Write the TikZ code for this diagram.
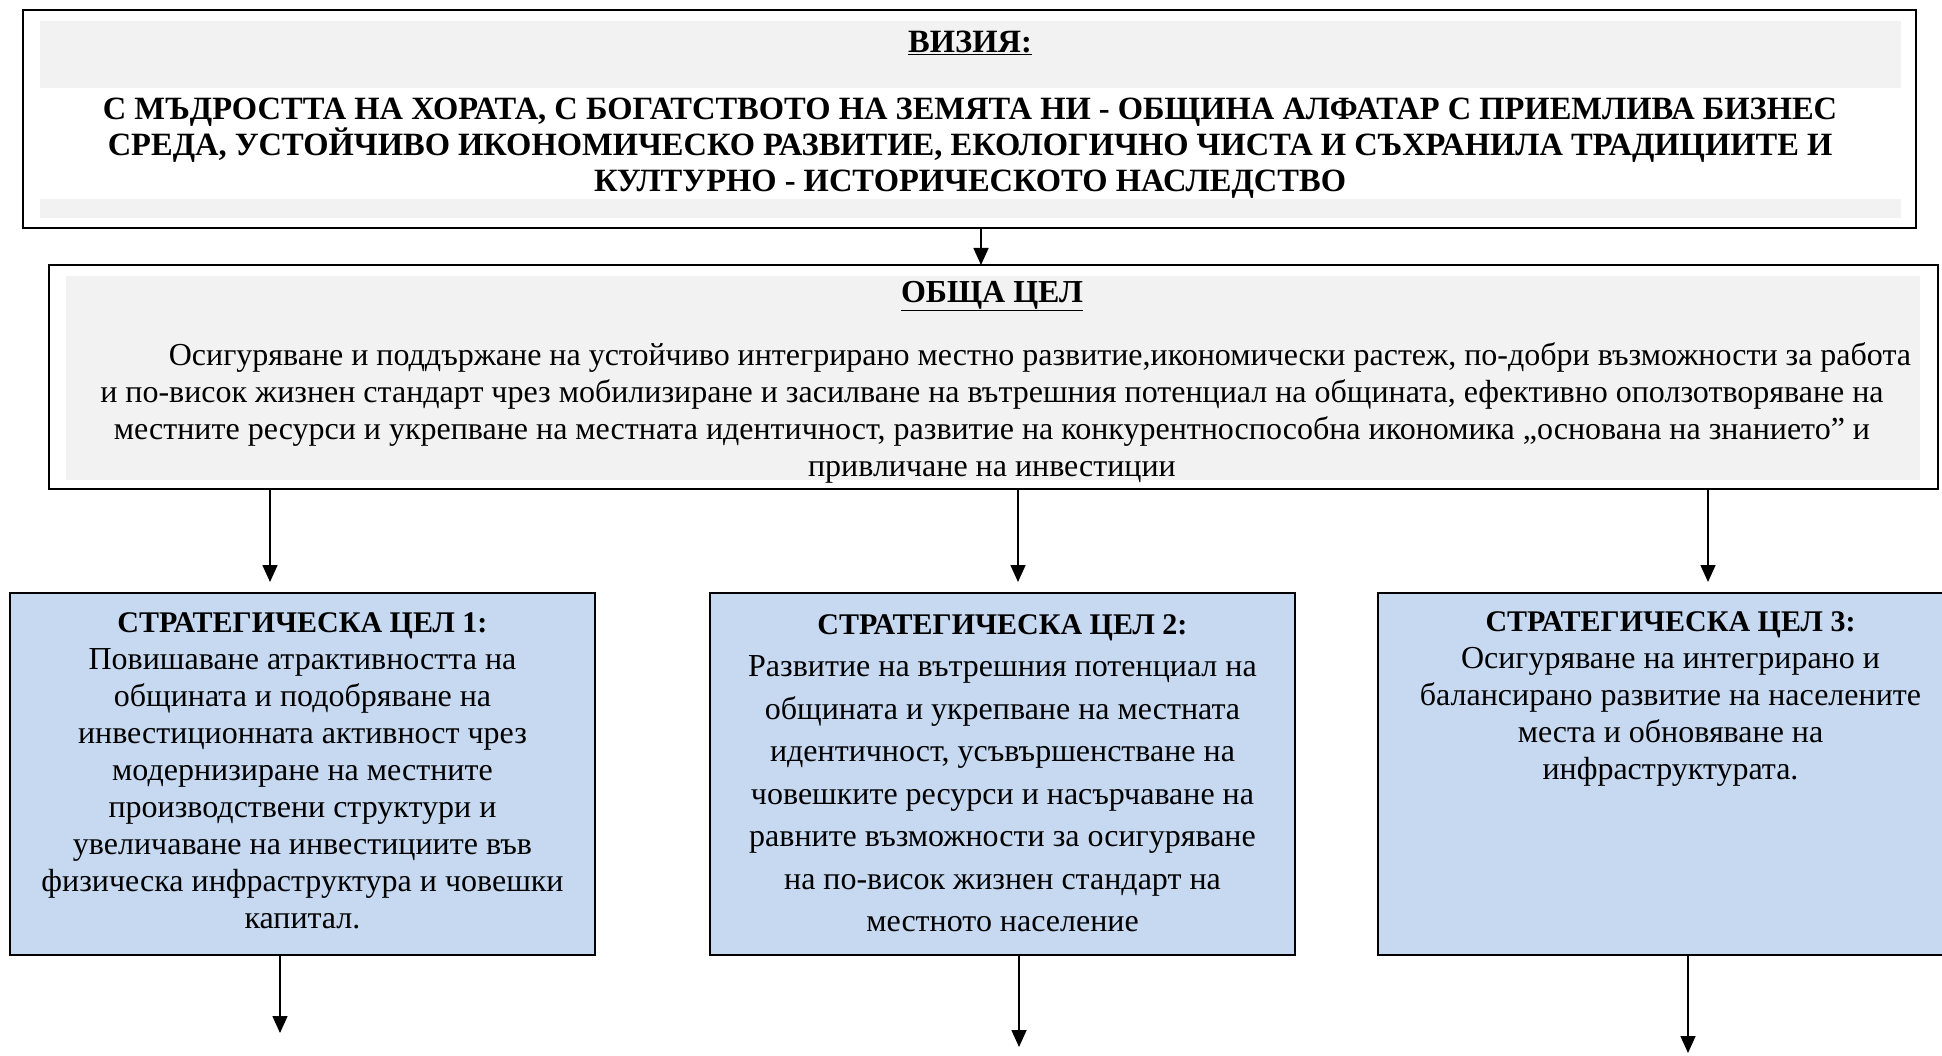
\documentclass[tikz,border=0pt]{standalone}
\usepackage{fontspec}
\setmainfont{Liberation Serif}
\usetikzlibrary{arrows.meta}
\definecolor{bandgray}{HTML}{F2F2F2}
\definecolor{goalblue}{HTML}{C6D9F1}
\begin{document}
\begin{tikzpicture}[x=1pt,y=-1pt,
  frame/.style={draw=black, line width=1.6pt, fill=white, inner sep=0pt, outer sep=0pt, anchor=north west},
  band/.style={fill=bandgray, draw=none, inner sep=0pt, outer sep=0pt, anchor=north west},
  stratbox/.style={draw=black, line width=1.6pt, fill=goalblue, inner sep=0pt, outer sep=0pt, anchor=north west, minimum width=585pt, minimum height=362pt},
  conn/.style={line width=1.6pt, -{Triangle[length=17pt,width=15pt]}},
  txt/.style={inner sep=0pt, align=center},
]
\fill[white] (0,0) rectangle (1942,1056);
\useasboundingbox (0,0) rectangle (1942,1056);

% Vision box
\node[frame, minimum width=1893pt, minimum height=218pt] (vis) at (23,10) {};
\node[band, minimum width=1861pt, minimum height=67pt] (visband1) at (40,21) {};
\node[band, minimum width=1861pt, minimum height=19pt] (visband2) at (40,199) {};
\node[txt, font=\fontsize{32.5pt}{36pt}\selectfont\bfseries] (vistitle) at (970,43) {\underline{ВИЗИЯ:}};
\node[txt, font=\fontsize{32.5pt}{36pt}\selectfont\bfseries] (vistext) at (970,148)
  {С МЪДРОСТТА НА ХОРАТА, С БОГАТСТВОТО НА ЗЕМЯТА НИ - ОБЩИНА АЛФАТАР С ПРИЕМЛИВА БИЗНЕС\\
   СРЕДА, УСТОЙЧИВО ИКОНОМИЧЕСКО РАЗВИТИЕ, ЕКОЛОГИЧНО ЧИСТА И СЪХРАНИЛА ТРАДИЦИИТЕ И\\
   КУЛТУРНО - ИСТОРИЧЕСКОТО НАСЛЕДСТВО};

% General goal box
\node[frame, minimum width=1889pt, minimum height=224pt] (goal) at (49,265) {};
\node[band, minimum width=1854pt, minimum height=204pt] (goalband) at (66,276) {};
\node[txt, font=\fontsize{32pt}{36.7pt}\selectfont\bfseries] (goaltitle) at (992,296) {\underline{ОБЩА ЦЕЛ}};
\node[txt, font=\fontsize{32pt}{36.7pt}\selectfont] (goaltext) at (992,413)
  {\hspace*{96pt}Осигуряване и поддържане на устойчиво интегрирано местно развитие,икономически растеж, по-добри възможности за работа\\
   и по-висок жизнен стандарт чрез мобилизиране и засилване на вътрешния потенциал на общината, ефективно оползотворяване на\\
   местните ресурси и укрепване на местната идентичност, развитие на конкурентноспособна икономика „основана на знанието” и\\
   привличане на инвестиции};

% Strategic goals
\node[stratbox] (s1) at (10,593) {};
\node[stratbox] (s2) at (710,593) {};
\node[stratbox] (s3) at (1378,593) {};

\node[txt, font=\fontsize{32pt}{37pt}\selectfont] (s1text) at (302.5,771)
  {{\fontsize{30pt}{37pt}\selectfont\bfseries СТРАТЕГИЧЕСКА ЦЕЛ 1:}\\
   Повишаване атрактивността на\\
   общината и подобряване на\\
   инвестиционната активност чрез\\
   модернизиране на местните\\
   производствени структури и\\
   увеличаване на инвестициите във\\
   физическа инфраструктура и човешки\\
   капитал.};
\node[txt, font=\fontsize{32pt}{42.5pt}\selectfont] (s2text) at (1002.5,773)
  {{\fontsize{30pt}{42.5pt}\selectfont\bfseries СТРАТЕГИЧЕСКА ЦЕЛ 2:}\\
   Развитие на вътрешния потенциал на\\
   общината и укрепване на местната\\
   идентичност, усъвършенстване на\\
   човешките ресурси и насърчаване на\\
   равните възможности за осигуряване\\
   на по-висок жизнен стандарт на\\
   местното население};
\node[txt, font=\fontsize{32pt}{37pt}\selectfont] (s3text) at (1670.5,699)
  {{\fontsize{30pt}{37pt}\selectfont\bfseries СТРАТЕГИЧЕСКА ЦЕЛ 3:}\\
   Осигуряване на интегрирано и\\
   балансирано развитие на населените\\
   места и обновяване на\\
   инфраструктурата.};

% Connectors
\coordinate (a0) at (981,0);
\coordinate (a1) at (270,0);
\coordinate (a2) at (1018,0);
\coordinate (a3) at (1708,0);
\coordinate (e1) at (280,1033);
\coordinate (e2) at (1019,1047);
\coordinate (e3) at (1688,1053);

\draw[conn] (vis.south -| a0) -- (goal.north -| a0);
\draw[conn, shorten >=11pt] (goal.south -| a1) -- (s1.north -| a1);
\draw[conn, shorten >=11pt] (goal.south -| a2) -- (s2.north -| a2);
\draw[conn, shorten >=11pt] (goal.south -| a3) -- (s3.north -| a3);
\draw[conn] (s1.south -| e1) -- (e1);
\draw[conn] (s2.south -| e2) -- (e2);
\draw[conn] (s3.south -| e3) -- (e3);
\end{tikzpicture}
\end{document}
